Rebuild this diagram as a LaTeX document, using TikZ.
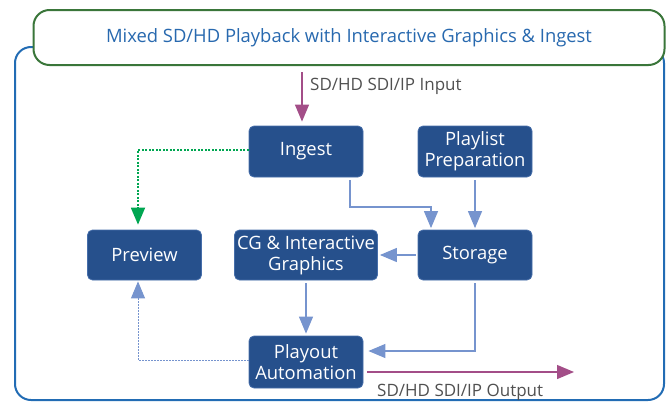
\documentclass[tikz,border=0pt]{standalone}
\usepackage{fontspec}
\setmainfont{Open Sans}
\usetikzlibrary{arrows.meta,calc}
\definecolor{boxfill}{RGB}{38,80,140}
\definecolor{boxedge}{RGB}{70,110,170}
\definecolor{conn}{RGB}{118,148,206}
\definecolor{dgreen}{RGB}{0,166,81}
\definecolor{magenta}{RGB}{163,78,136}
\definecolor{titlegreen}{RGB}{58,118,58}
\definecolor{titleblue}{RGB}{40,105,175}
\definecolor{outerblue}{RGB}{34,108,180}
\definecolor{labelgray}{RGB}{80,80,80}
\tikzset{
  blockbox/.style={draw=boxedge, line width=0.8pt, fill=boxfill, rounded corners=5pt,
    text=white, font=\fontsize{18.4}{21}\selectfont, align=center,
    minimum width=114pt, minimum height=51pt, inner sep=1pt},
  bighead/.style={-{Triangle[length=17pt,width=14pt]}},
  connline/.style={draw=conn, line width=1.2pt, bighead},
  greenline/.style={draw=dgreen, line width=1.8pt, dash pattern=on 2pt off 1.5pt, bighead},
  dotline/.style={draw=conn, line width=1pt, dash pattern=on 2pt off 1pt, bighead},
  ioline/.style={draw=magenta, line width=1.3pt, bighead},
  iolabel/.style={text=labelgray, font=\fontsize{17}{19}\selectfont, inner sep=0pt},
}
\begin{document}
\begin{tikzpicture}[x=1pt,y=-1pt]
\useasboundingbox (0,0) rectangle (671,402);
% outer box
\draw[outerblue, line width=2pt, rounded corners=16pt] (15,47) rectangle (664,400);
% title
\node[draw=titlegreen, line width=2pt, fill=white, rounded corners=16pt,
  minimum width=631pt, minimum height=55pt, text=titleblue,
  font=\fontsize{18.4}{21}\selectfont] (title) at (349,37.5)
  {Mixed SD/HD Playback with Interactive Graphics \& Ingest};
% blocks
\node[blockbox] (ingest) at (306,151.5) {Ingest};
\node[blockbox] (playlist) at (475,151.5) {Playlist\\Preparation};
\node[blockbox, minimum height=50pt] (preview) at (144.5,255) {Preview};
\node[blockbox, minimum width=143pt, minimum height=50pt] (cg) at (306,255) {CG \& Interactive\\Graphics};
\node[blockbox, minimum height=50pt] (storage) at (475,255) {Storage};
\node[blockbox, minimum height=52pt] (playout) at (306,362) {Playout\\Automation};
% input
\coordinate (instart) at (302,72);
\draw[ioline, shorten >=4pt] (instart) -- (instart |- ingest.north);
\node[iolabel, anchor=west] (inlabel) at (310,86) {SD/HD SDI/IP Input};
% output
\coordinate (outend) at (574,372);
\draw[ioline, shorten <=4pt] (playout.east |- outend) -- (outend);
\node[iolabel, anchor=west] (outlabel) at (377,392) {SD/HD SDI/IP Output};
% ingest -> preview
\draw[greenline, shorten >=5pt] ([yshift=1.5pt]ingest.west) -| ([xshift=-6.5pt]preview.north);
% ingest -> storage
\coordinate (bend) at (431,207);
\draw[connline, shorten >=1.5pt] ([xshift=44pt,yshift=-3pt]ingest.south) |- (bend) -- (bend |- storage.north);
% playlist -> storage
\draw[connline, shorten <=3pt, shorten >=1.5pt] (playlist.south) -- (storage.north);
% storage -> cg
\draw[connline, shorten <=2pt, shorten >=2pt] (storage.west) -- (cg.east);
% cg -> playout
\draw[connline, shorten <=3pt, shorten >=2pt] (cg.south) -- (playout.north);
% storage -> playout
\draw[connline, shorten >=5pt] ([yshift=-3pt]storage.south) |- ([yshift=11pt]playout.east);
% playout -> preview
\draw[dotline, shorten >=1pt] ([yshift=2pt]playout.west) -| ([xshift=-6.5pt]preview.south);
\end{tikzpicture}
\end{document}
